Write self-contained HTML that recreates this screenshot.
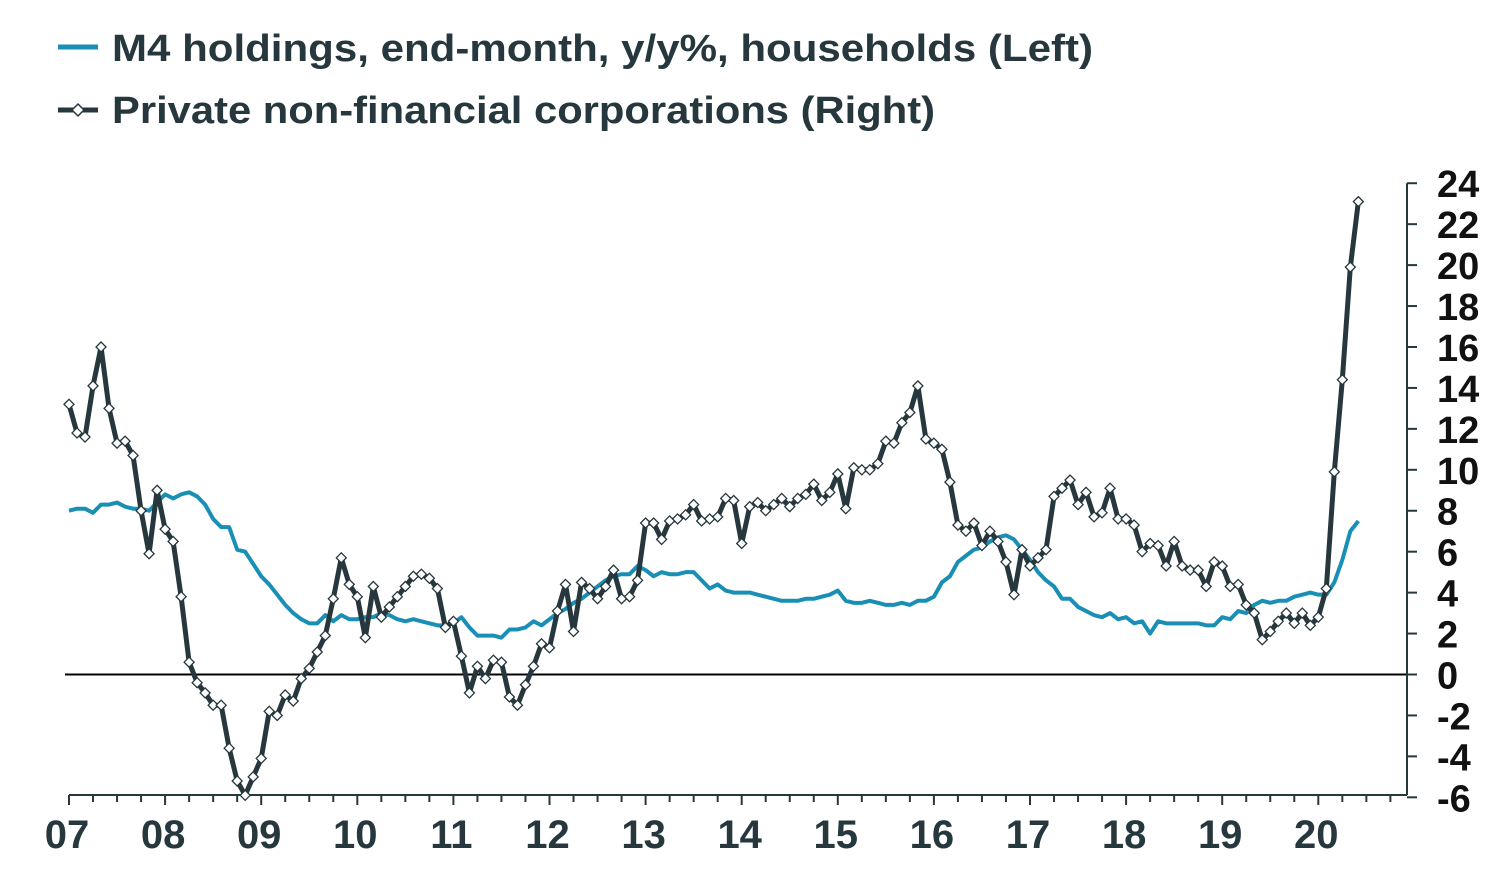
<!DOCTYPE html>
<html><head><meta charset="utf-8"><style>
body{margin:0;background:#fff;width:1510px;height:886px;overflow:hidden}
svg{display:block;font-family:"Liberation Sans",sans-serif}
</style></head><body>
<svg id="chart" width="1510" height="886">
<g>
 <g>
  <line x1="58" y1="47" x2="98" y2="47" stroke="#1a8fb5" stroke-width="5"/>
  <text x="112" y="61" font-size="38" font-weight="bold" fill="#26373d" textLength="981" lengthAdjust="spacingAndGlyphs">M4 holdings, end-month, y/y%, households (Left)</text>
 </g>
 <g>
  <line x1="58" y1="110" x2="98" y2="110" stroke="#26373d" stroke-width="5"/>
  <path d="M78 104 L84 110 L78 116 L72 110Z" fill="#fff" stroke="#26373d" stroke-width="1.5"/>
  <text x="112" y="123" font-size="38" font-weight="bold" fill="#26373d" textLength="823" lengthAdjust="spacingAndGlyphs">Private non-financial corporations (Right)</text>
 </g>
</g>
<g id="axes"></g>
<g id="series"></g>
</svg>
<script>
const yTicks=[24,22,20,18,16,14,12,10,8,6,4,2,0,-2,-4,-6];
const yearLabels=["07","08","09","10","11","12","13","14","15","16","17","18","19","20"];
const m4Households=[8.0,8.1,8.1,7.9,8.3,8.3,8.4,8.2,8.1,8.1,8.0,8.4,
8.8,8.6,8.8,8.9,8.7,8.3,7.6,7.2,7.2,6.1,6.0,5.4,
4.8,4.4,3.9,3.4,3.0,2.7,2.5,2.5,2.9,2.6,2.9,2.7,
2.7,2.8,2.8,3.0,2.9,2.7,2.6,2.7,2.6,2.5,2.4,2.4,
2.5,2.8,2.3,1.9,1.9,1.9,1.8,2.2,2.2,2.3,2.6,2.4,
2.7,3.0,3.2,3.5,3.7,4.0,4.3,4.6,4.8,4.9,4.9,5.3,
5.1,4.8,5.0,4.9,4.9,5.0,5.0,4.6,4.2,4.4,4.1,4.0,
4.0,4.0,3.9,3.8,3.7,3.6,3.6,3.6,3.7,3.7,3.8,3.9,
4.1,3.6,3.5,3.5,3.6,3.5,3.4,3.4,3.5,3.4,3.6,3.6,
3.8,4.5,4.8,5.5,5.8,6.1,6.2,6.5,6.7,6.8,6.6,6.1,
5.6,5.0,4.6,4.3,3.7,3.7,3.3,3.1,2.9,2.8,3.0,2.7,
2.8,2.5,2.6,2.0,2.6,2.5,2.5,2.5,2.5,2.5,2.4,2.4,
2.8,2.7,3.1,3.0,3.4,3.6,3.5,3.6,3.6,3.8,3.9,4.0,
3.9,3.9,4.5,5.6,7.0,7.5];
const pnfc=[13.2,11.8,11.6,14.1,16.0,13.0,11.3,11.4,10.7,8.0,5.9,9.0,
7.1,6.5,3.8,0.6,-0.4,-0.9,-1.5,-1.5,-3.6,-5.2,-5.9,-5.0,
-4.1,-1.8,-2.0,-1.0,-1.3,-0.2,0.3,1.1,1.9,3.7,5.7,4.4,
3.8,1.8,4.3,2.8,3.3,3.8,4.3,4.8,4.9,4.7,4.2,2.3,
2.6,0.9,-0.9,0.4,-0.2,0.7,0.6,-1.1,-1.5,-0.5,0.4,1.5,
1.3,3.1,4.4,2.1,4.5,4.2,3.7,4.3,5.1,3.7,3.8,4.6,
7.4,7.4,6.6,7.5,7.6,7.8,8.3,7.5,7.6,7.7,8.6,8.5,
6.4,8.2,8.4,8.0,8.3,8.6,8.2,8.6,8.8,9.3,8.5,8.9,
9.8,8.1,10.1,10.0,10.0,10.3,11.4,11.3,12.3,12.8,14.1,11.5,
11.3,11.0,9.4,7.3,7.0,7.4,6.3,7.0,6.5,5.5,3.9,6.1,
5.3,5.7,6.1,8.7,9.1,9.5,8.3,8.9,7.7,7.9,9.1,7.6,
7.6,7.3,6.0,6.4,6.3,5.3,6.5,5.3,5.1,5.1,4.3,5.5,
5.3,4.3,4.4,3.4,3.0,1.7,2.1,2.6,3.0,2.5,3.0,2.4,
2.8,4.2,9.9,14.4,19.9,23.1];
const NS="http://www.w3.org/2000/svg";
const X0=69, PERYEAR=96.1, AXR=1407, Y0=674.5, PER=20.47, XAXY=795;
function xm(i){return X0+i*PERYEAR/12;}
function yv(v){return Y0-v*PER;}
function mk(tag,attrs,parent){const e=document.createElementNS(NS,tag);for(const k in attrs)e.setAttribute(k,attrs[k]);parent.appendChild(e);return e;}
const ax=document.getElementById('axes'), se=document.getElementById('series');
let e;
e=mk('line',{x1:65,x2:AXR,y1:yv(0),y2:yv(0),stroke:'#000','stroke-width':2},ax);


e=mk('line',{x1:AXR,x2:AXR,y1:yv(24),y2:XAXY,stroke:'#26373d','stroke-width':2},ax);


yTicks.forEach(v=>{
 mk('line',{x1:AXR,x2:AXR+10,y1:yv(v),y2:yv(v),stroke:'#26373d','stroke-width':2},ax);
 const t=mk('text',{x:1437,y:yv(v)+14,'font-size':38,'font-weight':'bold',fill:'#111'},ax);
 t.textContent=v;
 
 
});
e=mk('line',{x1:X0,x2:AXR,y1:XAXY,y2:XAXY,stroke:'#26373d','stroke-width':2},ax);


for(let q=0;;q++){const x=X0+q*PERYEAR/4;if(x>AXR+1)break;
 mk('line',{x1:x,x2:x,y1:XAXY,y2:XAXY+(q%4==0?10:7),stroke:'#26373d','stroke-width':2},ax);}
yearLabels.forEach((l,i)=>{
 const t=mk('text',{x:X0+i*PERYEAR-2,y:848,'font-size':40,'font-weight':'bold',fill:'#26373d','text-anchor':'middle'},ax);
 t.textContent=l;
 
 
});
e=mk('polyline',{points:m4Households.map((v,i)=>xm(i)+','+yv(v)).join(' '),fill:'none',stroke:'#1a8fb5','stroke-width':4,'stroke-linejoin':'round'},se);


e=mk('polyline',{points:pnfc.map((v,i)=>xm(i)+','+yv(v)).join(' '),fill:'none',stroke:'#26373d','stroke-width':5,'stroke-linejoin':'round'},se);


pnfc.forEach((v,i)=>{const x=xm(i),y=yv(v);
 const p=mk('path',{d:`M${x} ${y-5}L${x+5} ${y}L${x} ${y+5}L${x-5} ${y}Z`,fill:'#fff',stroke:'#26373d','stroke-width':1.3},se);
 
 
});
</script>
</body></html>
